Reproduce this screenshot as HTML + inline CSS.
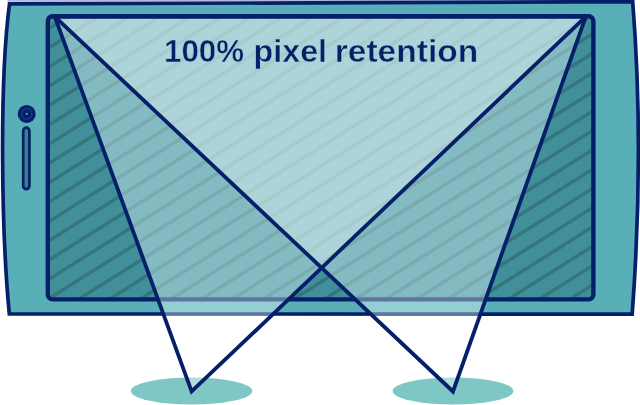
<!DOCTYPE html>
<html><head><meta charset="utf-8"><title>100% pixel retention</title>
<style>
html,body{margin:0;padding:0;background:#fff;}
body{width:640px;height:405px;overflow:hidden;}
svg{display:block;}
text{font-family:"Liberation Sans",sans-serif;font-weight:bold;fill:#052068;stroke:#aed5d9;stroke-width:0.45px;}
</style></head><body>
<svg width="640" height="405" viewBox="0 0 640 405">
<defs>
<clipPath id="bodyclip"><polygon points="-10,-10 650,-10 650,316.05 -10,315.75"/></clipPath>
<clipPath id="scr"><rect x="47.8" y="16.2" width="545.6" height="283.2" rx="5" ry="5"/></clipPath>
</defs>
<filter id="soft" x="-2%" y="-2%" width="104%" height="104%" color-interpolation-filters="sRGB"><feGaussianBlur stdDeviation="0.75"/></filter>
<g filter="url(#soft)">
<rect x="-20" y="-20" width="680" height="445" fill="#fff"/>
<ellipse cx="191.6" cy="391" rx="60.7" ry="13.6" fill="#7fc7c5"/>
<ellipse cx="453" cy="391" rx="60.4" ry="13.6" fill="#7fc7c5"/>
<polygon points="54.8,16.6 585.8,16.6 191.6,391.5" fill="#fff" fill-opacity="0.4"/>
<polygon points="54.8,16.6 585.8,16.6 453.0,391.5" fill="#fff" fill-opacity="0.4"/>
<polygon points="7.5,-3 634,-3 634,0.4 7.5,1.8" fill="#b4bad6"/>
<path d="M9.5 3.9 L632.7 1.7 Q644.4 150 632.2 314.2 L9.3 313.9 C1.25 230 -0.6 80 9.5 3.9 Z" fill="#59afb7" stroke="#052068" stroke-width="3.7" stroke-linejoin="miter"/>
<rect x="47.8" y="16.2" width="545.6" height="283.2" rx="5" ry="5" fill="#418f9a"/>
<g clip-path="url(#scr)" stroke="#35767c" stroke-width="3.4">
<line x1="30" y1="1.73" x2="620" y2="-369.27"/>
<line x1="30" y1="21.03" x2="620" y2="-349.97"/>
<line x1="30" y1="40.33" x2="620" y2="-330.67"/>
<line x1="30" y1="59.63" x2="620" y2="-311.37"/>
<line x1="30" y1="78.93" x2="620" y2="-292.07"/>
<line x1="30" y1="98.23" x2="620" y2="-272.77"/>
<line x1="30" y1="117.53" x2="620" y2="-253.47"/>
<line x1="30" y1="136.83" x2="620" y2="-234.17"/>
<line x1="30" y1="156.13" x2="620" y2="-214.87"/>
<line x1="30" y1="175.43" x2="620" y2="-195.57"/>
<line x1="30" y1="194.73" x2="620" y2="-176.27"/>
<line x1="30" y1="214.03" x2="620" y2="-156.97"/>
<line x1="30" y1="233.33" x2="620" y2="-137.67"/>
<line x1="30" y1="252.63" x2="620" y2="-118.37"/>
<line x1="30" y1="271.93" x2="620" y2="-99.07"/>
<line x1="30" y1="291.23" x2="620" y2="-79.77"/>
<line x1="30" y1="310.53" x2="620" y2="-60.47"/>
<line x1="30" y1="329.83" x2="620" y2="-41.17"/>
<line x1="30" y1="349.13" x2="620" y2="-21.87"/>
<line x1="30" y1="368.43" x2="620" y2="-2.57"/>
<line x1="30" y1="387.73" x2="620" y2="16.73"/>
<line x1="30" y1="407.03" x2="620" y2="36.03"/>
<line x1="30" y1="426.33" x2="620" y2="55.33"/>
<line x1="30" y1="445.63" x2="620" y2="74.63"/>
<line x1="30" y1="464.93" x2="620" y2="93.93"/>
<line x1="30" y1="484.23" x2="620" y2="113.23"/>
<line x1="30" y1="503.53" x2="620" y2="132.53"/>
<line x1="30" y1="522.83" x2="620" y2="151.83"/>
<line x1="30" y1="542.13" x2="620" y2="171.13"/>
<line x1="30" y1="561.43" x2="620" y2="190.43"/>
<line x1="30" y1="580.73" x2="620" y2="209.73"/>
<line x1="30" y1="600.03" x2="620" y2="229.03"/>
<line x1="30" y1="619.33" x2="620" y2="248.33"/>
<line x1="30" y1="638.63" x2="620" y2="267.63"/>
<line x1="30" y1="657.93" x2="620" y2="286.93"/>
<line x1="30" y1="677.23" x2="620" y2="306.23"/>
</g>
<rect x="47.8" y="16.2" width="545.6" height="283.2" rx="5" ry="5" fill="none" stroke="#052068" stroke-width="4.4"/>
<circle cx="26.7" cy="113.9" r="9" fill="#052068"/>
<circle cx="26.7" cy="113.9" r="5.2" fill="none" stroke="#153f7c" stroke-width="1.2"/>
<circle cx="26.7" cy="113.9" r="1.05" fill="#55aab4"/>
<rect x="23.2" y="127.7" width="6.2" height="61.5" rx="3.1" ry="3.1" fill="#36838f" stroke="#052068" stroke-width="2.7"/>
<g clip-path="url(#bodyclip)">
<polygon points="54.8,16.6 585.8,16.6 191.6,391.5" fill="#f0ffff" fill-opacity="0.385"/>
<polygon points="54.8,16.6 585.8,16.6 453.0,391.5" fill="#f0ffff" fill-opacity="0.385"/>
</g>
<g fill="none" stroke="#052068" stroke-width="3.8" stroke-linejoin="miter" stroke-miterlimit="10">
<polygon points="54.8,16.6 585.8,16.6 191.6,391.5"/>
<polygon points="54.8,16.6 585.8,16.6 453.0,391.5"/>
</g>
<text y="62.4" font-size="30.5"><tspan x="164" textLength="80" lengthAdjust="spacingAndGlyphs">100%</tspan> <tspan x="253.6" textLength="73.5" lengthAdjust="spacingAndGlyphs">pixel</tspan> <tspan x="334.7" textLength="143.5" lengthAdjust="spacingAndGlyphs">retention</tspan></text>
</g>
</svg>
</body></html>
